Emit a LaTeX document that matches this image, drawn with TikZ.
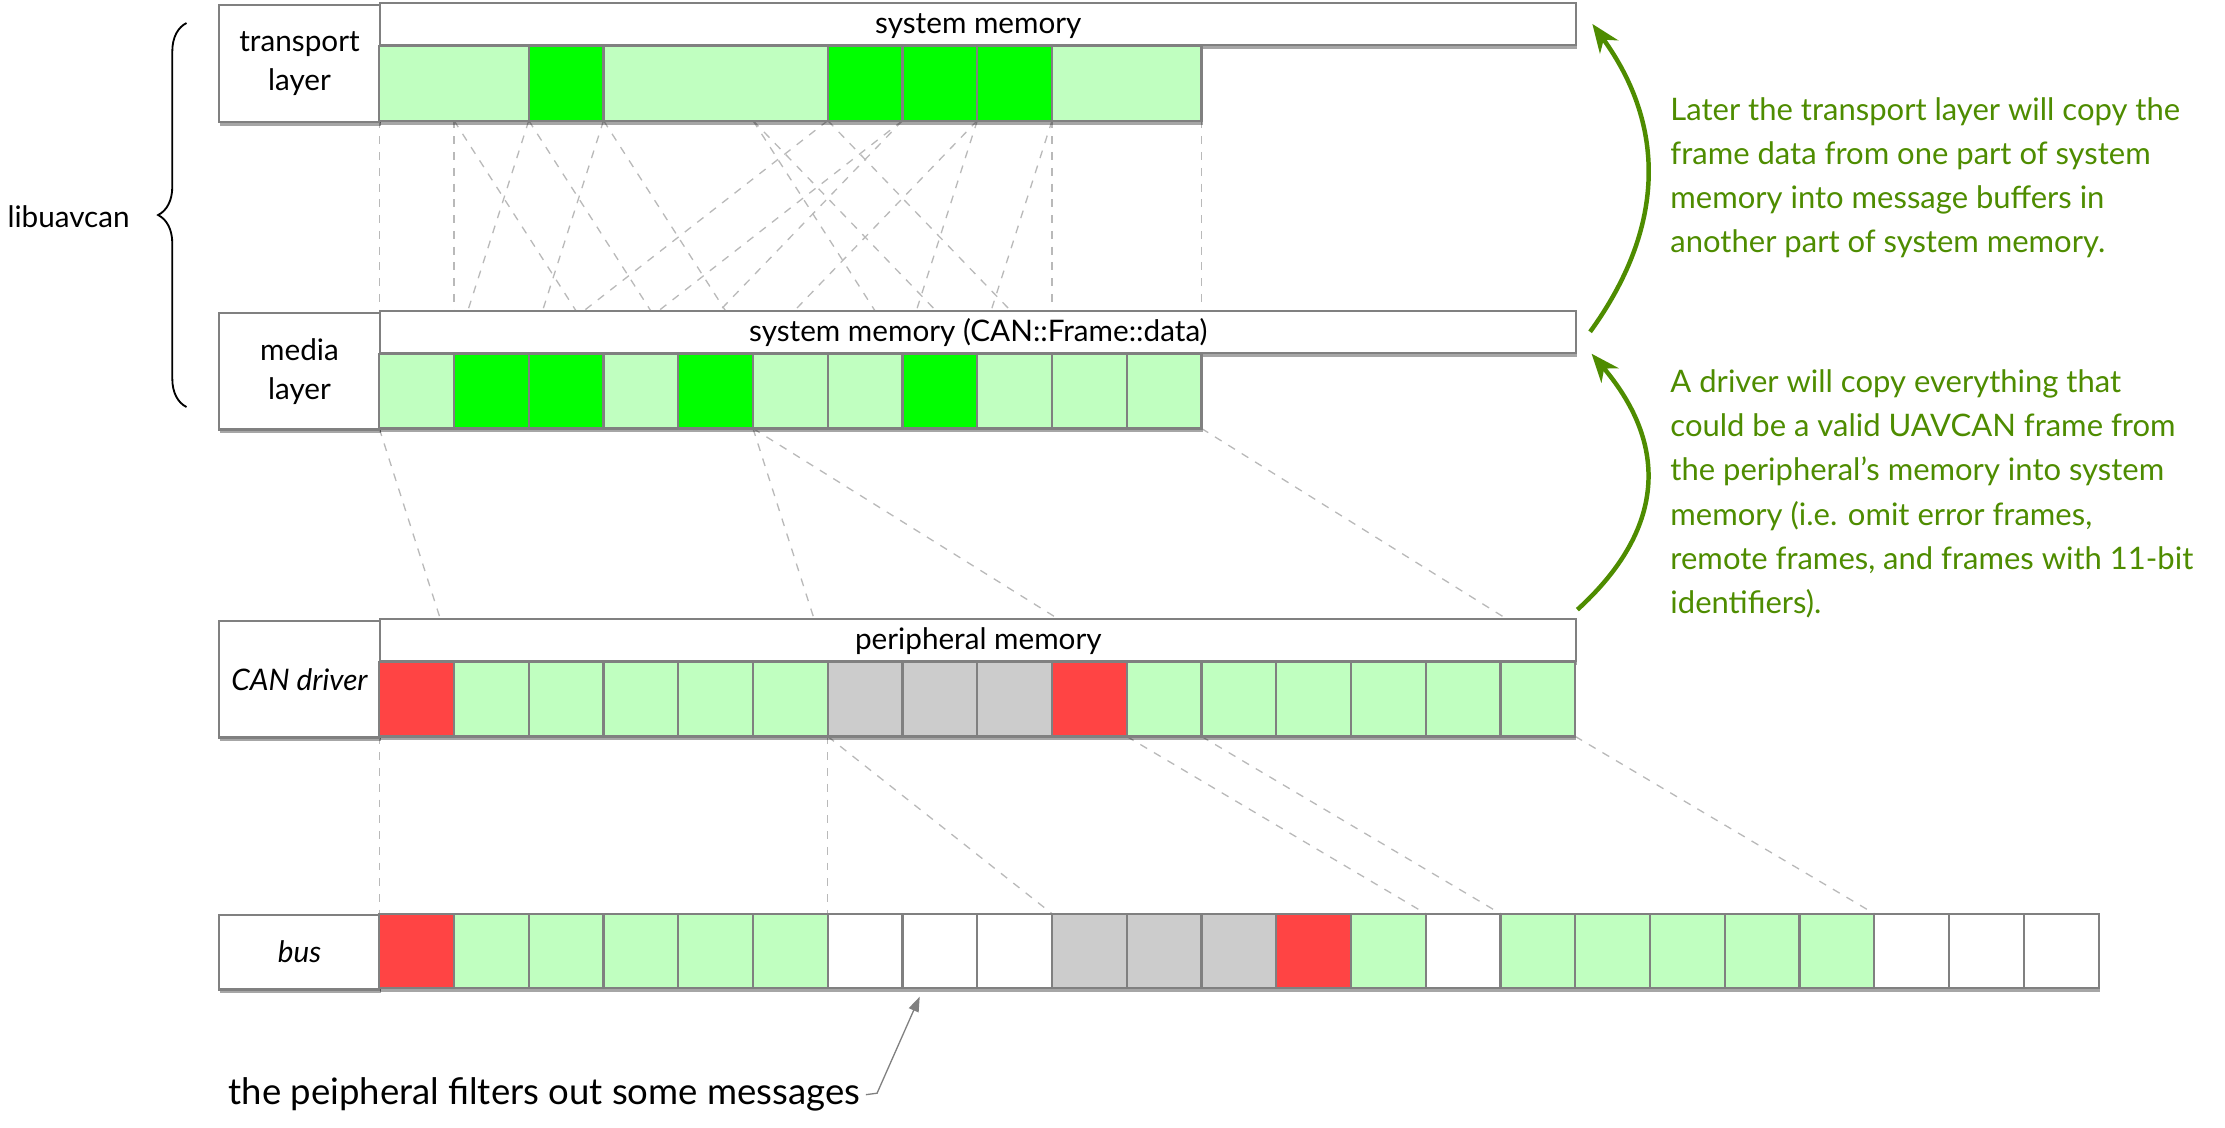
\documentclass[tikz,border=0pt]{standalone}
\usepackage{fontspec}
\setmainfont{Lato}
\usetikzlibrary{arrows.meta, shadows, decorations.pathreplacing}

\definecolor{cellgray}{RGB}{128,128,128}
\definecolor{linkgray}{RGB}{185,185,185}
\definecolor{frameLight}{RGB}{192,255,192}
\definecolor{frameDark}{RGB}{0,255,0}
\definecolor{frameError}{RGB}{255,68,68}
\definecolor{frameDropped}{RGB}{204,204,204}
\definecolor{noteGreen}{RGB}{78,140,0}

\tikzset{
    boxshadow/.style = {drop shadow = {shadow xshift = 0.4pt, shadow yshift = -1.5pt, opacity = 0.35, fill = black}},
    layerbox/.style = {draw = cellgray, line width = 0.8pt, fill = white, boxshadow, inner sep = 0pt,
        align = center, font = \fontsize{11.3}{14.8}\selectfont, minimum width = 2.163cm, anchor = north west},
    memorybar/.style = {draw = cellgray, line width = 0.8pt, fill = white, boxshadow, inner sep = 0pt,
        font = \fontsize{11.3}{14}\selectfont, text height = 0.8em, text depth = 0.05em,
        minimum width = 16cm, minimum height = 0.558cm, anchor = south west},
    cellbox/.style = {draw = cellgray, line width = 0.8pt, boxshadow},
    framelink/.style = {draw = linkgray, line width = 0.5pt, dash pattern = on 3pt off 3pt},
    notearrow/.style = {draw = noteGreen, line width = 1.7pt, -{Stealth[length = 0.38cm, width = 0.3cm, inset = 0.12cm]}},
    notetext/.style = {text = noteGreen, align = left, inner sep = 0pt, anchor = north west,
        font = \fontsize{11.8}{16.8}\selectfont},
    callout/.style = {draw = cellgray, line width = 0.5pt, -{Triangle[length = 0.2cm, width = 0.14cm]}},
}

\begin{document}
\begin{tikzpicture}

    \useasboundingbox (0,0) rectangle (29.766,-15.09);

    %% top left corner of the cells in every row
    \coordinate (tCells) at (5.074,-0.613);
    \coordinate (mCells) at (5.074,-4.732);
    \coordinate (cCells) at (5.074,-8.852);
    \coordinate (bCells) at (5.074,-12.223);

    %% cell edges
    \foreach \k in {0,...,11} {
        \path (tCells) ++(\k,-1) coordinate (tBot\k);
        \path (mCells) ++(\k,0) coordinate (mTop\k);
        \path (mCells) ++(\k,-1) coordinate (mBot\k);
    }
    \foreach \k in {0,...,16} {
        \path (cCells) ++(\k,0) coordinate (cTop\k);
        \path (cCells) ++(\k,-1) coordinate (cBot\k);
    }
    \foreach \k in {0,...,22} {
        \path (bCells) ++(\k,0) coordinate (bTop\k);
    }

    %% Drawing the copy links (behind the rows)
    \foreach \a/\b in {0/0, 1/1, 1/3, 2/4, 2/1, 3/2, 3/5, 5/7, 5/8, 6/9, 6/2, 7/3, 7/4, 8/5, 8/7, 9/8, 9/9, 11/11} {
        \draw [framelink] (tBot\a) -- (mTop\b);
    }
    \foreach \a/\b in {0/1, 5/6, 5/10, 11/16} {
        \draw [framelink] (mBot\a) -- (cTop\b);
    }
    \foreach \a/\b in {0/0, 6/6, 6/9, 10/14, 11/15, 16/20} {
        \draw [framelink] (cBot\a) -- (bTop\b);
    }

    %% Drawing transport layer
    \node [layerbox, minimum height = 1.558cm] (tLayer) at (2.911,-0.055) {transport\\layer};
    \node [memorybar] (tMem) at (tCells) {system memory};
    \foreach \x/\w/\f in {0/2/frameLight, 2/1/frameDark, 3/3/frameLight, 6/1/frameDark,
                          7/1/frameDark, 8/1/frameDark, 9/2/frameLight} {
        \filldraw [cellbox, fill = \f] (tCells) ++(\x,0) rectangle ++(\w,-1);
    }

    %% Drawing media layer
    \node [layerbox, minimum height = 1.558cm] (mLayer) at (2.911,-4.174) {media\\layer};
    \node [memorybar] (mMem) at (mCells) {system memory (CAN::Frame::data)};
    \foreach \f [count = \i from 0] in {frameLight, frameDark, frameDark, frameLight, frameDark, frameLight,
                                       frameLight, frameDark, frameLight, frameLight, frameLight} {
        \filldraw [cellbox, fill = \f] (mCells) ++(\i,0) rectangle ++(1,-1);
    }

    %% Drawing CAN driver
    \node [layerbox, minimum height = 1.558cm] (cLayer) at (2.911,-8.294) {\itshape CAN driver};
    \node [memorybar] (cMem) at (cCells) {peripheral memory};
    \foreach \f [count = \i from 0] in {frameError, frameLight, frameLight, frameLight, frameLight, frameLight,
                                       frameDropped, frameDropped, frameDropped, frameError, frameLight,
                                       frameLight, frameLight, frameLight, frameLight, frameLight} {
        \filldraw [cellbox, fill = \f] (cCells) ++(\i,0) rectangle ++(1,-1);
    }

    %% Drawing bus
    \node [layerbox, minimum height = 1cm] (bLayer) at (2.911,-12.223) {\itshape bus};
    \foreach \f [count = \i from 0] in {frameError, frameLight, frameLight, frameLight, frameLight, frameLight,
                                       white, white, white, frameDropped, frameDropped, frameDropped,
                                       frameError, frameLight, white, frameLight, frameLight, frameLight,
                                       frameLight, frameLight, white, white, white} {
        \filldraw [cellbox, fill = \f] (bCells) ++(\i,0) rectangle ++(1,-1);
    }

    %% libuavcan brace
    \draw [decorate, decoration = {brace, amplitude = 0.38cm}, line width = 0.7pt]
    (2.495,-5.445) -- (2.495,-0.308);
    \node [font = \fontsize{11.3}{14}\selectfont] (libName) at (0.918,-2.903) {libuavcan};

    %% green notes
    \node [notetext] (copyNote) at (22.34,-1.3)
    {Later the transport layer will copy the\\frame data from one part of system\\
     memory into message buffers in\\another part of system memory.};
    \node [notetext] (driverNote) at (22.34,-4.94)
    {A driver will copy everything that\\could be a valid UAVCAN frame from\\
     the peripheral’s memory into system\\memory (i.e. omit error frames,\\
     remote frames, and frames with 11-bit\\identifiers).};

    \draw [notearrow]
    ([xshift = 0.17cm]mMem.east) .. controls +(1.0,1.38) and +(1.0,-1.38) .. ([xshift = 0.2cm]tMem.east);
    \draw [notearrow]
    ([yshift = 0.11cm]cMem.north east) .. controls +(1.1,1.0) and +(1.1,-1.3) .. ([xshift = 0.19cm]mMem.south east);

    %% filter note
    \node [font = \fontsize{13.9}{17}\selectfont, anchor = base west, inner sep = 0pt] (filterNote)
    at (3.05,-14.78) {the peipheral filters out some messages};
    \path (bCells) ++(7.23,-1.11) coordinate (filterTip);
    \draw [callout] ([xshift = 0.07cm]filterNote.east) -- ++(0.15,0.02) -- (filterTip);

\end{tikzpicture}
\end{document}
